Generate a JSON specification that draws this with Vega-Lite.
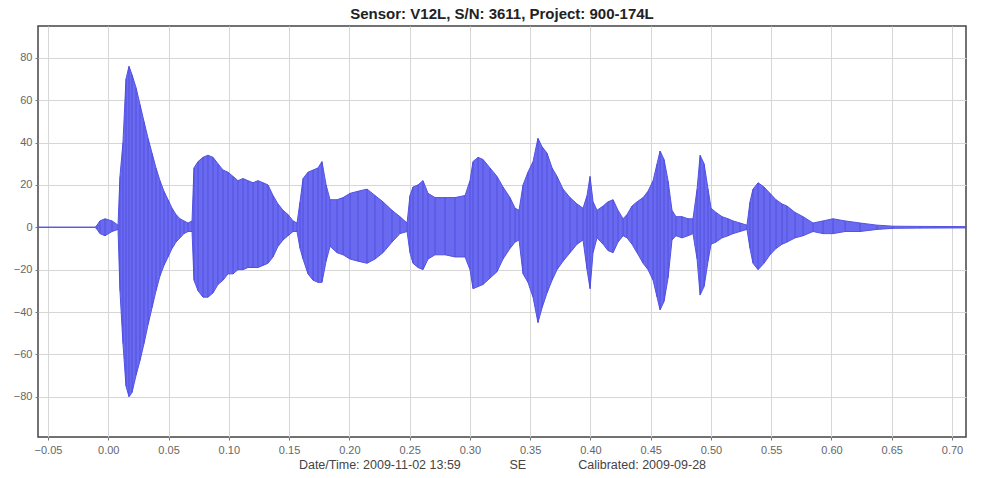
{
  "$schema": "https://vega.github.io/schema/vega-lite/v6.json",
  "autosize": {"type": "none"},
  "padding": {"left": 38, "top": 26, "right": 24, "bottom": 41},
  "width": 928,
  "height": 411,
  "background": "white",
  "title": {"text": "Sensor: V12L, S/N: 3611, Project: 900-174L", "fontSize": 15, "fontWeight": "bold", "font": "Liberation Sans", "color": "#222", "anchor": "middle", "offset": 4},
  "config": {
    "view": {"stroke": "#444", "strokeWidth": 1.5},
    "axis": {"labelFont": "Liberation Sans", "labelFontSize": 11, "labelColor": "#666", "gridColor": "#d6d6d6", "gridWidth": 1, "domain": false, "tickColor": "#777", "tickSize": 3, "titleFont": "Liberation Sans"}
  },
  "data": {"values": [
    {"t": -0.0583, "top": 0, "bot": 0},
    {"t": -0.0110, "top": 0, "bot": 0},
    {"t": -0.0093, "top": 1, "bot": -1},
    {"t": -0.0069, "top": 3, "bot": -3},
    {"t": -0.0027, "top": 4, "bot": -4},
    {"t": 0.0031, "top": 3, "bot": -2},
    {"t": 0.0081, "top": 1, "bot": -1},
    {"t": 0.0097, "top": 24, "bot": -30},
    {"t": 0.0122, "top": 40, "bot": -55},
    {"t": 0.0147, "top": 70, "bot": -75},
    {"t": 0.0172, "top": 76, "bot": -80},
    {"t": 0.0197, "top": 72, "bot": -78},
    {"t": 0.0230, "top": 66, "bot": -70},
    {"t": 0.0263, "top": 58, "bot": -63},
    {"t": 0.0296, "top": 50, "bot": -55},
    {"t": 0.0330, "top": 42, "bot": -46},
    {"t": 0.0363, "top": 35, "bot": -38},
    {"t": 0.0396, "top": 28, "bot": -30},
    {"t": 0.0429, "top": 22, "bot": -23},
    {"t": 0.0462, "top": 17, "bot": -18},
    {"t": 0.0496, "top": 13, "bot": -14},
    {"t": 0.0529, "top": 9, "bot": -10},
    {"t": 0.0562, "top": 6, "bot": -7},
    {"t": 0.0595, "top": 4, "bot": -5},
    {"t": 0.0628, "top": 3, "bot": -3},
    {"t": 0.0662, "top": 2, "bot": -2},
    {"t": 0.0695, "top": 3, "bot": -2},
    {"t": 0.0711, "top": 28, "bot": -25},
    {"t": 0.0745, "top": 31, "bot": -30},
    {"t": 0.0786, "top": 33, "bot": -33},
    {"t": 0.0827, "top": 34, "bot": -33},
    {"t": 0.0869, "top": 33, "bot": -31},
    {"t": 0.0910, "top": 30, "bot": -27},
    {"t": 0.0952, "top": 27, "bot": -25},
    {"t": 0.0993, "top": 26, "bot": -22},
    {"t": 0.1035, "top": 24, "bot": -22},
    {"t": 0.1076, "top": 22, "bot": -20},
    {"t": 0.1118, "top": 23, "bot": -20},
    {"t": 0.1159, "top": 22, "bot": -19},
    {"t": 0.1201, "top": 21, "bot": -19},
    {"t": 0.1242, "top": 22, "bot": -19},
    {"t": 0.1284, "top": 21, "bot": -18},
    {"t": 0.1325, "top": 20, "bot": -17},
    {"t": 0.1367, "top": 15, "bot": -14},
    {"t": 0.1408, "top": 11, "bot": -9},
    {"t": 0.1450, "top": 8, "bot": -6},
    {"t": 0.1491, "top": 6, "bot": -4},
    {"t": 0.1533, "top": 3, "bot": -2},
    {"t": 0.1566, "top": 2, "bot": -2},
    {"t": 0.1591, "top": 12, "bot": -10},
    {"t": 0.1616, "top": 23, "bot": -15},
    {"t": 0.1657, "top": 26, "bot": -22},
    {"t": 0.1699, "top": 27, "bot": -25},
    {"t": 0.1740, "top": 28, "bot": -26},
    {"t": 0.1773, "top": 31, "bot": -26},
    {"t": 0.1807, "top": 20, "bot": -16},
    {"t": 0.1840, "top": 13, "bot": -9},
    {"t": 0.1898, "top": 13, "bot": -12},
    {"t": 0.1948, "top": 14, "bot": -13},
    {"t": 0.2006, "top": 16, "bot": -15},
    {"t": 0.2072, "top": 17, "bot": -16},
    {"t": 0.2147, "top": 18, "bot": -17},
    {"t": 0.2213, "top": 15, "bot": -15},
    {"t": 0.2279, "top": 12, "bot": -12},
    {"t": 0.2354, "top": 8, "bot": -7},
    {"t": 0.2420, "top": 5, "bot": -3},
    {"t": 0.2479, "top": 2, "bot": -2},
    {"t": 0.2503, "top": 15, "bot": -12},
    {"t": 0.2528, "top": 19, "bot": -17},
    {"t": 0.2570, "top": 20, "bot": -19},
    {"t": 0.2611, "top": 22, "bot": -20},
    {"t": 0.2653, "top": 16, "bot": -15},
    {"t": 0.2711, "top": 14, "bot": -13},
    {"t": 0.2794, "top": 14, "bot": -13},
    {"t": 0.2877, "top": 14, "bot": -14},
    {"t": 0.2960, "top": 15, "bot": -14},
    {"t": 0.3001, "top": 22, "bot": -20},
    {"t": 0.3026, "top": 31, "bot": -29},
    {"t": 0.3068, "top": 33, "bot": -28},
    {"t": 0.3109, "top": 32, "bot": -27},
    {"t": 0.3167, "top": 28, "bot": -24},
    {"t": 0.3225, "top": 24, "bot": -21},
    {"t": 0.3275, "top": 19, "bot": -15},
    {"t": 0.3333, "top": 14, "bot": -10},
    {"t": 0.3375, "top": 9, "bot": -7},
    {"t": 0.3408, "top": 8, "bot": -6},
    {"t": 0.3441, "top": 20, "bot": -22},
    {"t": 0.3482, "top": 26, "bot": -26},
    {"t": 0.3524, "top": 31, "bot": -33},
    {"t": 0.3565, "top": 42, "bot": -45},
    {"t": 0.3599, "top": 38, "bot": -38},
    {"t": 0.3640, "top": 35, "bot": -31},
    {"t": 0.3682, "top": 28, "bot": -25},
    {"t": 0.3723, "top": 24, "bot": -20},
    {"t": 0.3773, "top": 18, "bot": -16},
    {"t": 0.3831, "top": 14, "bot": -12},
    {"t": 0.3889, "top": 11, "bot": -8},
    {"t": 0.3939, "top": 9, "bot": -6},
    {"t": 0.3972, "top": 15, "bot": -20},
    {"t": 0.3997, "top": 24, "bot": -29},
    {"t": 0.4022, "top": 12, "bot": -12},
    {"t": 0.4055, "top": 8, "bot": -5},
    {"t": 0.4105, "top": 10, "bot": -8},
    {"t": 0.4146, "top": 12, "bot": -11},
    {"t": 0.4188, "top": 13, "bot": -12},
    {"t": 0.4229, "top": 8, "bot": -7},
    {"t": 0.4271, "top": 4, "bot": -4},
    {"t": 0.4304, "top": 6, "bot": -5},
    {"t": 0.4345, "top": 10, "bot": -8},
    {"t": 0.4387, "top": 12, "bot": -12},
    {"t": 0.4437, "top": 14, "bot": -17},
    {"t": 0.4478, "top": 17, "bot": -20},
    {"t": 0.4520, "top": 22, "bot": -25},
    {"t": 0.4553, "top": 30, "bot": -33},
    {"t": 0.4578, "top": 36, "bot": -39},
    {"t": 0.4611, "top": 32, "bot": -35},
    {"t": 0.4644, "top": 22, "bot": -24},
    {"t": 0.4677, "top": 8, "bot": -6},
    {"t": 0.4710, "top": 5, "bot": -4},
    {"t": 0.4760, "top": 5, "bot": -5},
    {"t": 0.4810, "top": 4, "bot": -4},
    {"t": 0.4851, "top": 4, "bot": -3},
    {"t": 0.4885, "top": 18, "bot": -15},
    {"t": 0.4910, "top": 34, "bot": -32},
    {"t": 0.4943, "top": 30, "bot": -28},
    {"t": 0.4976, "top": 18, "bot": -16},
    {"t": 0.5001, "top": 9, "bot": -8},
    {"t": 0.5042, "top": 7, "bot": -7},
    {"t": 0.5092, "top": 5, "bot": -5},
    {"t": 0.5142, "top": 4, "bot": -4},
    {"t": 0.5183, "top": 3, "bot": -3},
    {"t": 0.5241, "top": 2, "bot": -2},
    {"t": 0.5299, "top": 1, "bot": -1},
    {"t": 0.5324, "top": 12, "bot": -10},
    {"t": 0.5349, "top": 18, "bot": -17},
    {"t": 0.5391, "top": 21, "bot": -20},
    {"t": 0.5440, "top": 19, "bot": -17},
    {"t": 0.5490, "top": 16, "bot": -13},
    {"t": 0.5540, "top": 13, "bot": -10},
    {"t": 0.5590, "top": 11, "bot": -8},
    {"t": 0.5631, "top": 10, "bot": -7},
    {"t": 0.5698, "top": 7, "bot": -5},
    {"t": 0.5764, "top": 5, "bot": -4},
    {"t": 0.5847, "top": 2, "bot": -2},
    {"t": 0.5930, "top": 3, "bot": -3},
    {"t": 0.6013, "top": 4, "bot": -3},
    {"t": 0.6113, "top": 3, "bot": -2},
    {"t": 0.6237, "top": 2, "bot": -2},
    {"t": 0.6378, "top": 1, "bot": -1},
    {"t": 0.6511, "top": 0.5, "bot": -0.5},
    {"t": 0.6735, "top": 0.4, "bot": -0.4},
    {"t": 0.7116, "top": 0.3, "bot": -0.3}
  ]},
  "encoding": {
    "x": {"field": "t", "type": "quantitative", "scale": {"domain": [-0.0583, 0.7116], "nice": false, "zero": false},
      "axis": {"values": [-0.05, 0, 0.05, 0.1, 0.15, 0.2, 0.25, 0.3, 0.35, 0.4, 0.45, 0.5, 0.55, 0.6, 0.65, 0.7], "format": ".2f", "labelPadding": 4,
        "title": "Date/Time: 2009-11-02 13:59\u00a0\u00a0\u00a0\u00a0\u00a0\u00a0\u00a0\u00a0\u00a0\u00a0\u00a0\u00a0\u00a0\u00a0SE\u00a0\u00a0\u00a0\u00a0\u00a0\u00a0\u00a0\u00a0\u00a0\u00a0\u00a0\u00a0\u00a0\u00a0\u00a0Calibrated: 2009-09-28", "titleFontSize": 12.5, "titleFontWeight": "normal", "titleColor": "#444", "titlePadding": 3}},
    "y": {"field": "top", "type": "quantitative", "scale": {"domain": [-99, 95], "nice": false},
      "axis": {"values": [-80, -60, -40, -20, 0, 20, 40, 60, 80], "title": null, "labelPadding": 3}}
  },
  "layer": [
    {"mark": {"type": "area", "fill": "#6a6af0", "stroke": "#5252e4", "strokeWidth": 1, "interpolate": "linear"},
      "encoding": {"y2": {"field": "bot"}}},
    {"mark": {"type": "rule", "color": "#3c3cd6", "strokeWidth": 1, "opacity": 0.55},
      "encoding": {"y2": {"field": "bot"}}}
  ]
}
